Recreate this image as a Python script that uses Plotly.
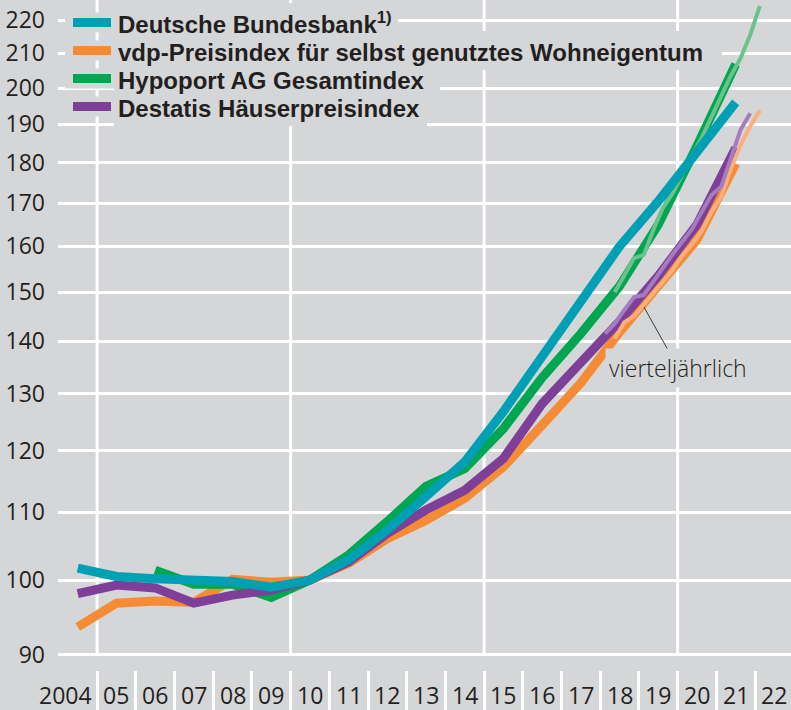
import math
import plotly.graph_objects as go

# ---------------- data ----------------
years_bb = list(range(2004, 2022))
bundesbank = [101.7, 100.5, 100.2, 100.0, 99.8, 99.0, 100.0, 102.9, 107.3, 112.5,
              118.1, 126.8, 136.9, 148.3, 160.0, 170.5, 183.0, 196.0]

years_vdp = list(range(2004, 2022))
vdp = [93.6, 96.8, 97.1, 96.9, 100.1, 99.7, 100.0, 102.4, 106.0, 108.8,
       112.2, 117.3, 124.4, 132.0, 141.8, 151.3, 161.5, 179.8]

years_hyp = list(range(2006, 2022))
hypoport = [101.4, 99.4, 99.4, 97.6, 100.0, 103.6, 108.6, 114.1, 117.0, 123.8,
            133.0, 141.5, 151.3, 165.0, 184.3, 206.8]

years_des = list(range(2004, 2022))
destatis = [98.1, 99.3, 98.9, 96.8, 97.9, 98.6, 100.0, 102.6, 106.8, 110.4,
            113.5, 118.7, 128.2, 136.0, 144.0, 153.5, 165.0, 183.8]

# quarterly
quarters_hyp = [(2018, 2), (2018, 3), (2018, 4), (2019, 1), (2019, 2), (2019, 3), (2019, 4),
                (2020, 1), (2020, 2), (2020, 3), (2020, 4), (2021, 1), (2021, 2), (2021, 3), (2021, 4), (2022, 1)]
hypoport_q = [150.0, 153.5, 157.4, 158.1, 163.8, 169.0, 172.5, 177.0,
              182.0, 186.5, 192.0, 197.5, 203.5, 208.5, 215.5, 224.5]

quarters_vdp = [(2018, 2), (2018, 3), (2018, 4), (2019, 1), (2019, 2), (2019, 3), (2019, 4),
                (2020, 1), (2020, 2), (2020, 3), (2020, 4), (2021, 1), (2021, 2), (2021, 3), (2021, 4), (2022, 1)]
vdp_q = [140.5, 143.8, 145.0, 147.5, 150.0, 152.3, 154.8, 158.0,
         160.5, 163.5, 168.0, 171.5, 178.5, 184.5, 189.5, 193.8]

quarters_des = [(2018, 1), (2018, 2), (2018, 3), (2018, 4), (2019, 1), (2019, 2), (2019, 3), (2019, 4),
                (2020, 1), (2020, 2), (2020, 3), (2020, 4), (2021, 1), (2021, 2), (2021, 3), (2021, 4)]
destatis_q = [141.5, 143.5, 146.3, 149.0, 149.4, 152.5, 155.3, 158.3,
              161.2, 164.0, 168.0, 172.0, 174.0, 181.5, 188.5, 193.0]

series_names = ["Deutsche Bundesbank<sup>1)</sup>",
                "vdp-Preisindex für selbst genutztes Wohneigentum",
                "Hypoport AG Gesamtindex",
                "Destatis Häuserpreisindex"]

year_labels = ["2004", "05", "06", "07", "08", "09", "10", "11", "12", "13",
               "14", "15", "16", "17", "18", "19", "20", "21", "22"]
label_years = list(range(2004, 2023))
y_ticks = [90, 100, 110, 120, 130, 140, 150, 160, 170, 180, 190, 200, 210, 220]
boundary_years = list(range(2005, 2023))
grid_years = [2005, 2010, 2015, 2020]

note_text = "vierteljährlich"

# ---------------- styles ----------------
BG = "#d5d6d8"
TXT = "#231f20"
C_BB = "#00a0b4"
C_VDP = "#f58b34"
C_HYP = "#00a651"
C_DES = "#7d3f98"
C_VDP_L = "#fbb07c"
C_HYP_L = "#6cc28c"
C_DES_L = "#a47cbf"
FONT = "Open Sans"
LEG_FONT = "Liberation Sans"


def ann_x(years):
    return [y + 0.5 for y in years]


def q_x(qs):
    return [y + (q - 0.5) / 4 for y, q in qs]


fig = go.Figure()

def add_line(x, y, color, width):
    fig.add_trace(go.Scatter(x=x, y=y, mode="lines", showlegend=False,
                             line=dict(color=color, width=width), hoverinfo="x+y"))

add_line(ann_x(years_vdp), vdp, C_VDP, 9)
add_line(ann_x(years_hyp), hypoport, C_HYP, 9)
add_line(ann_x(years_des), destatis, C_DES, 9)
add_line(q_x(quarters_vdp), vdp_q, C_VDP_L, 4)
add_line(q_x(quarters_hyp), hypoport_q, C_HYP_L, 4)
add_line(q_x(quarters_des), destatis_q, C_DES_L, 4)
add_line(ann_x(years_bb), bundesbank, C_BB, 9)

W, H = 791, 710
ML, MT, MB = 58, 0, 40
PW, PH = W - ML, H - MT - MB


def px(p):  # pixel x -> paper
    return (p - ML) / PW


def py(q):  # pixel y -> paper
    return (MT + PH - q) / PH


shapes = []
annotations = []

# vertical gridlines
for gy in grid_years:
    shapes.append(dict(type="line", xref="x", yref="paper", x0=gy, x1=gy,
                       y0=py(655), y1=1, line=dict(color="white", width=3), layer="below"))

# legend (manual, with background knockouts)
ROW_GAP = 28.0
row_y = [22.5 + i * ROW_GAP for i in range(4)]
row_end = [398, 722, 440, 427]
colors = [C_BB, C_VDP, C_HYP, C_DES]
for ry, re_ in zip(row_y, row_end):
    shapes.append(dict(type="rect", xref="paper", yref="paper",
                       x0=px(65), x1=px(115), y0=py(ry + 10), y1=py(ry - 10),
                       fillcolor=BG, line=dict(width=0), layer="above"))
    shapes.append(dict(type="rect", xref="paper", yref="paper",
                       x0=px(114), x1=px(re_), y0=py(ry + 19.5), y1=py(ry - 19.5),
                       fillcolor=BG, line=dict(width=0), layer="above"))
for col, ry in zip(colors, row_y):
    shapes.append(dict(type="line", xref="paper", yref="paper",
                       x0=px(73), x1=px(111), y0=py(ry), y1=py(ry),
                       line=dict(color=col, width=9), layer="above"))

# one text block: line spacing 1.3 * base size = ROW_GAP, glyphs drawn at 24 px
legend_text = "<br>".join("<span style='font-size:24px'>%s</span>" % n for n in series_names)
annotations.append(dict(text=legend_text, xref="paper", yref="paper",
                        x=px(118), y=py(sum(row_y) / 4), xanchor="left", yanchor="middle",
                        align="left", showarrow=False, borderpad=0, borderwidth=0,
                        font=dict(family=LEG_FONT, size=ROW_GAP / 1.3, color=TXT, weight=700)))

# year labels
for yr, lab in zip(label_years, year_labels):
    if yr == 2004:
        annotations.append(dict(text=lab, xref="x", yref="paper", x=yr + 0.9, y=py(695),
                                xanchor="right", yanchor="middle", showarrow=False, borderpad=0,
                                font=dict(family=FONT, size=23, color=TXT)))
    else:
        annotations.append(dict(text=lab, xref="x", yref="paper", x=yr + 0.5, y=py(695),
                                xanchor="center", yanchor="middle", showarrow=False, borderpad=0,
                                font=dict(family=FONT, size=23, color=TXT)))

# note with leader line
note_x, note_y = 2020.01, 134.8
lead_x0, lead_y0, lead_x1, lead_y1 = 2019.13, 146.9, 2019.75, 138.3
shapes.append(dict(type="line", xref="x", yref="y", x0=lead_x0, y0=lead_y0,
                   x1=lead_x1, y1=lead_y1, line=dict(color="#3a3a3a", width=1), layer="above"))
annotations.append(dict(text=note_text, xref="x", yref="y", x=note_x, y=math.log10(note_y),
                        xanchor="center", yanchor="middle", showarrow=False,
                        bgcolor=BG, borderpad=3,
                        font=dict(family=FONT, size=23, color=TXT, weight=300)))

fig.update_layout(
    width=W, height=H,
    margin=dict(l=ML, r=0, t=MT, b=MB, pad=0),
    paper_bgcolor=BG, plot_bgcolor=BG,
    showlegend=False,
    shapes=shapes, annotations=annotations,
    font=dict(family=FONT, color=TXT),
    xaxis=dict(range=[2003.99, 2022.93], tickvals=boundary_years, showticklabels=False,
               ticks="outside", ticklen=40, tickwidth=3, tickcolor="white", automargin=False,
               showgrid=False, zeroline=False, showline=False, fixedrange=True),
    yaxis=dict(type="log", range=[math.log10(88.1), math.log10(226.4)],
               tickvals=y_ticks, ticktext=[str(v) for v in y_ticks], automargin=False,
               ticks="", showgrid=True, gridcolor="white", gridwidth=3,
               zeroline=False, showline=False, ticklabelstandoff=12,
               tickfont=dict(family=FONT, size=23, color=TXT), fixedrange=True),
)

fig.write_html("out.html", config={"displayModeBar": False},
               post_script="document.body.style.margin='0';document.body.style.overflow='hidden';")
